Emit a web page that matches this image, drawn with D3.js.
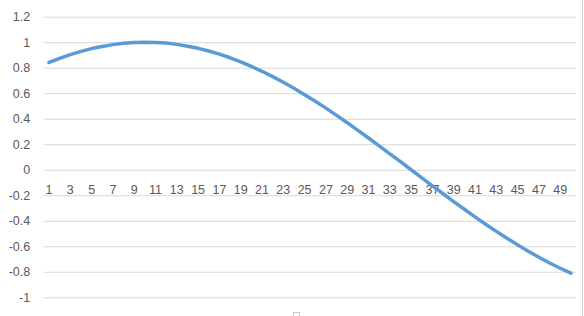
<!DOCTYPE html>
<html>
<head>
<meta charset="utf-8">
<script src="https://cdn.jsdelivr.net/npm/d3@7/dist/d3.min.js"></script>
<style>
  html, body { margin: 0; padding: 0; background: #fff; }
  svg { display: block; }
</style>
</head>
<body>
<div id="chart"></div>
<script>
// categories 1..50
const categories = [
  1, 2, 3, 4, 5, 6, 7, 8, 9, 10, 11, 12, 13, 14, 15, 16, 17, 18, 19, 20,
  21, 22, 23, 24, 25, 26, 27, 28, 29, 30, 31, 32, 33, 34, 35, 36, 37, 38, 39, 40,
  41, 42, 43, 44, 45, 46, 47, 48, 49, 50
];

// series values
const values = [
  0.841, 0.874, 0.903, 0.928, 0.950, 0.967, 0.981, 0.992, 0.998, 1.000,
  0.998, 0.993, 0.983, 0.969, 0.952, 0.931, 0.906, 0.878, 0.846, 0.810,
  0.772, 0.730, 0.686, 0.639, 0.589, 0.537, 0.483, 0.426, 0.369, 0.309,
  0.249, 0.187, 0.125, 0.063, 0.000, -0.063, -0.126, -0.188, -0.250, -0.310,
  -0.369, -0.427, -0.483, -0.537, -0.589, -0.639, -0.686, -0.731, -0.772, -0.811
];

const yTicks = [-1, -0.8, -0.6, -0.4, -0.2, 0, 0.2, 0.4, 0.6, 0.8, 1, 1.2];
const xTickLabels = categories.filter((d) => d % 2 === 1);

const width = 584;
const height = 316;

const svg = d3
  .select("#chart")
  .append("svg")
  .attr("width", width)
  .attr("height", height);

svg.append("rect")
  .attr("width", width)
  .attr("height", height)
  .attr("fill", "#ffffff");

// scales
const x = d3.scaleBand().domain(categories).range([43.7, 576.2]);
const y = d3.scaleLinear().domain([-1, 1.2]).range([297.3, 16.7]);

const fontFamily = '"Liberation Sans", Arial, sans-serif';

// gridlines + y labels
const yAxis = d3
  .axisLeft(y)
  .tickValues(yTicks)
  .tickSize(-(576.2 - 43.7))
  .tickPadding(13.5)
  .tickFormat((d) => String(+d.toFixed(1)));

const yg = svg.append("g")
  .attr("transform", "translate(43.7,0)")
  .call(yAxis);

yg.select(".domain").remove();
yg.selectAll(".tick line")
  .attr("stroke", "#d9d9d9")
  .attr("stroke-width", 1);
yg.selectAll(".tick text")
  .attr("fill", "#595959")
  .style("font-family", fontFamily)
  .style("font-size", "12.5px");

// category labels along the zero line
const xAxis = d3
  .axisBottom(x)
  .tickValues(xTickLabels)
  .tickSize(0)
  .tickPadding(15);

const xg = svg.append("g")
  .attr("transform", `translate(0,${y(0)})`)
  .call(xAxis);

xg.select(".domain").remove();
xg.selectAll(".tick text")
  .attr("fill", "#595959")
  .style("font-family", fontFamily)
  .style("font-size", "12.5px");

// series line
const line = d3
  .line()
  .x((d, i) => x(categories[i]) + x.bandwidth() / 2)
  .y((d) => y(d));

svg.append("path")
  .datum(values)
  .attr("fill", "none")
  .attr("stroke", "#5b9bd5")
  .attr("stroke-width", 3.5)
  .attr("stroke-linejoin", "round")
  .attr("stroke-linecap", "round")
  .attr("d", line);

// chart frame edge and sizing handle
svg.append("line")
  .attr("x1", 582.5).attr("x2", 582.5)
  .attr("y1", 0).attr("y2", height)
  .attr("stroke", "#d0d0d0")
  .attr("stroke-width", 1);

svg.append("rect")
  .attr("x", 293.5).attr("y", 312.5)
  .attr("width", 6).attr("height", 6)
  .attr("fill", "#fff")
  .attr("stroke", "#c8c8c8");
</script>
</body>
</html>
